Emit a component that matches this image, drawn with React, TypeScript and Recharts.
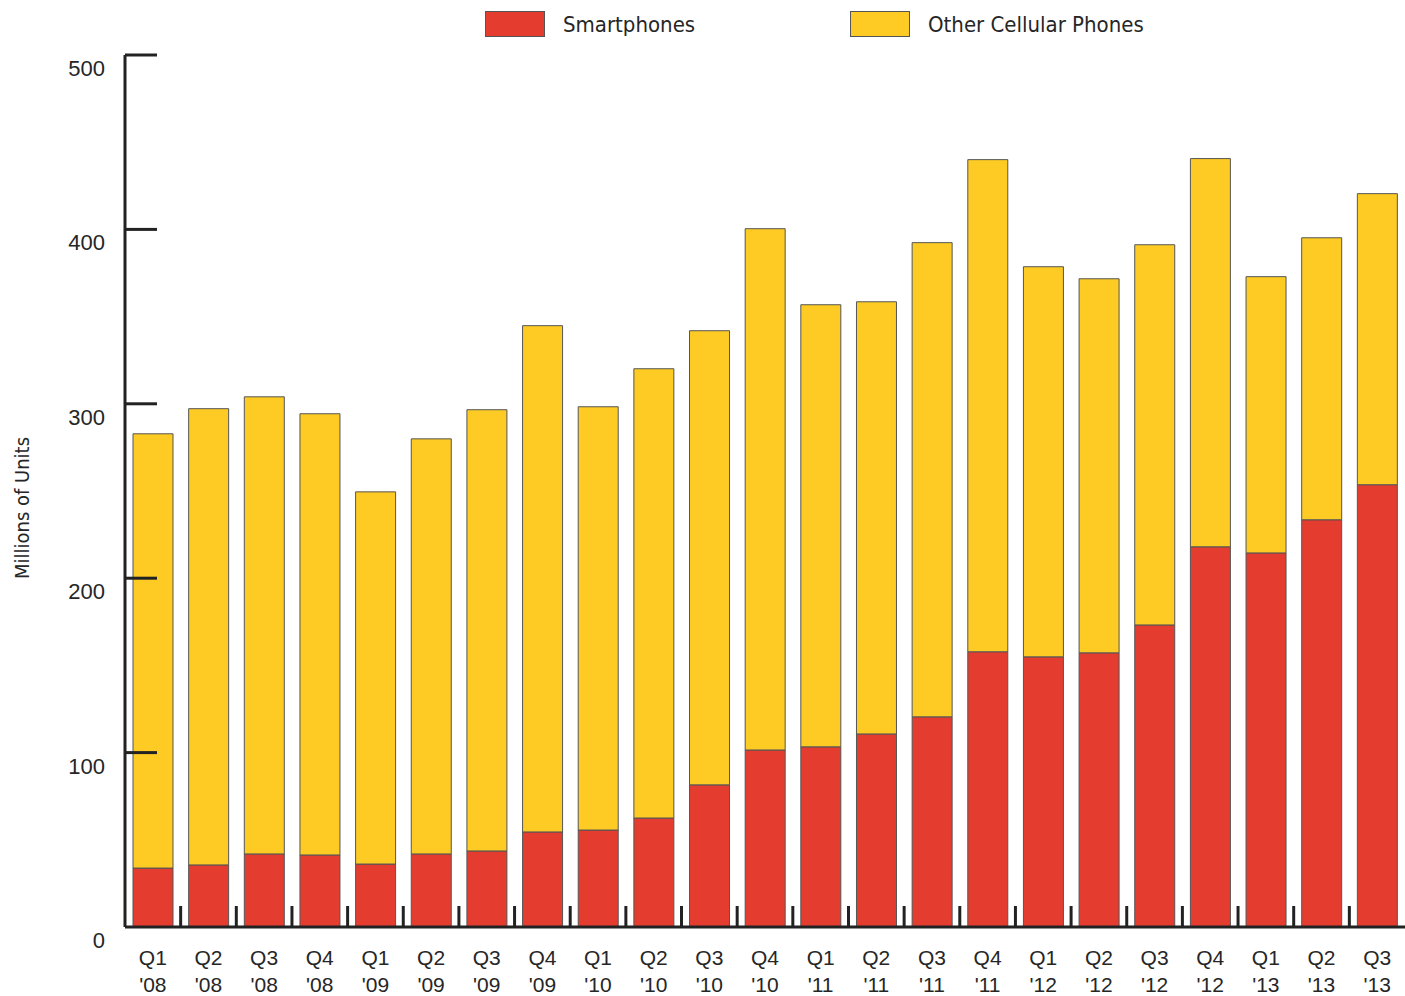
import React from 'react';
import { BarChart, Bar, XAxis, YAxis, Legend } from 'recharts';

const quarters = ['Q1', 'Q2', 'Q3', 'Q4', 'Q1', 'Q2', 'Q3', 'Q4', 'Q1', 'Q2', 'Q3', 'Q4', 'Q1', 'Q2', 'Q3', 'Q4', 'Q1', 'Q2', 'Q3', 'Q4', 'Q1', 'Q2', 'Q3'];
const years = ["'08", "'08", "'08", "'08", "'09", "'09", "'09", "'09", "'10", "'10", "'10", "'10", "'11", "'11", "'11", "'11", "'12", "'12", "'12", "'12", "'13", "'13", "'13"];
const smartphones = [33.8, 35.6, 41.9, 41.3, 36.1, 41.9, 43.6, 54.5, 55.6, 62.5, 81.5, 101.5, 103.3, 110.7, 120.5, 157.8, 154.9, 157.2, 173.2, 218.0, 214.5, 233.5, 253.6];
const otherPhones = [249.0, 261.6, 262.1, 253.0, 213.4, 238.0, 253.0, 290.3, 242.7, 257.6, 260.4, 298.9, 253.5, 247.8, 271.9, 282.2, 223.7, 214.5, 218.0, 222.6, 158.4, 161.7, 166.9];
const yTicks = [0, 100, 200, 300, 400, 500];
const seriesOrder = ['smart', 'other'];

const data = quarters.map((q, i) => ({
  key: `${q}${years[i]}`,
  q,
  yr: years[i],
  smart: smartphones[i],
  other: otherPhones[i],
}));

const RED = '#E43D30';
const YELLOW = '#FDCB24';
const AXIS = '#222';
const TEXT = '#262626';
const TICK_FONT = '"Liberation Sans", Arial, sans-serif';
const COND_FONT = '"DejaVu Sans Condensed", "DejaVu Sans", sans-serif';

const XTick = (props: any) => {
  const { x, y, payload, index } = props;
  const half = payload && payload.offset ? payload.offset : 1280 / 23 / 2;
  const d = data[index] || { q: '', yr: '' };
  return (
    <g>
      {index < data.length - 1 && (
        <line x1={x + half} x2={x + half} y1={y} y2={y - 21} stroke={AXIS} strokeWidth={3} />
      )}
      <text x={x} y={y + 38} textAnchor="middle" fontFamily={TICK_FONT} fontSize={21} fill={TEXT}>
        {d.q}
      </text>
      <text x={x} y={y + 65} textAnchor="middle" fontFamily={TICK_FONT} fontSize={21} fill={TEXT}>
        {d.yr}
      </text>
    </g>
  );
};

const YTick = (props: any) => {
  const { x, y, payload } = props;
  return (
    <g>
      {payload.value !== 0 && (
        <line x1={x} x2={x + 32} y1={y} y2={y} stroke={AXIS} strokeWidth={3} />
      )}
      <text x={x - 20} y={y + 21} textAnchor="end" fontFamily={TICK_FONT} fontSize={22} fill={TEXT}>
        {payload.value}
      </text>
    </g>
  );
};

const LegendContent = (props: any) => {
  const items = [...(props.payload || [])].sort(
    (a: any, b: any) => seriesOrder.indexOf(a.dataKey) - seriesOrder.indexOf(b.dataKey)
  );
  return (
    <div style={{ display: 'flex', paddingLeft: 485 }}>
      {items.map((p: any, i: number) => (
        <div key={i} style={{ display: 'flex', alignItems: 'center', width: i === 0 ? 365 : 320, height: 28 }}>
          <div style={{ width: 58, height: 24, background: p.color, border: '1px solid #555' }} />
          <span style={{ marginLeft: 18, fontFamily: COND_FONT, fontSize: 22, color: TEXT }}>{p.value}</span>
        </div>
      ))}
    </div>
  );
};

const YLabel = () => (
  <text
    x={22}
    y={508}
    transform="rotate(-90 22 508)"
    textAnchor="middle"
    dominantBaseline="central"
    fontFamily={COND_FONT}
    fontSize={20}
    fill={TEXT}
  >
    Millions of Units
  </text>
);

export default function App() {
  return (
    <div style={{ position: 'absolute', left: 0, top: 0, background: '#fff' }}>
      <BarChart width={1405} height={996} data={data} margin={{ top: 55, right: 0, bottom: 0, left: 0 }}>
        <XAxis
          dataKey="key"
          height={69}
          interval={0}
          tickSize={0}
          tickMargin={0}
          tickLine={false}
          axisLine={{ stroke: AXIS, strokeWidth: 3 }}
          tick={<XTick />}
        />
        <YAxis
          width={125}
          domain={[0, 500]}
          ticks={yTicks}
          interval={0}
          tickSize={0}
          tickMargin={0}
          tickLine={false}
          axisLine={{ stroke: AXIS, strokeWidth: 3 }}
          tick={<YTick />}
          label={<YLabel />}
        />
        <Legend
          layout="horizontal"
          verticalAlign="middle"
          align="center"
          wrapperStyle={{ top: 10, left: 0, width: 1405 }}
          content={<LegendContent />}
        />
        <Bar dataKey="smart" name="Smartphones" stackId="a" fill={RED} stroke="#555" strokeWidth={1} barSize={40} isAnimationActive={false} />
        <Bar dataKey="other" name="Other Cellular Phones" stackId="a" fill={YELLOW} stroke="#555" strokeWidth={1} barSize={40} isAnimationActive={false} />
      </BarChart>
    </div>
  );
}
